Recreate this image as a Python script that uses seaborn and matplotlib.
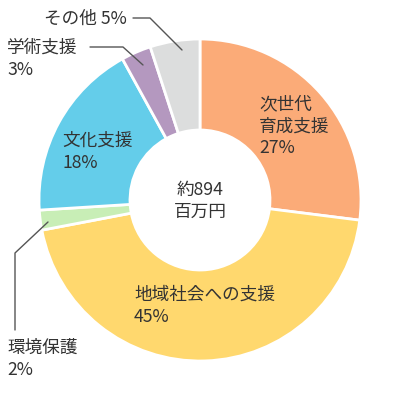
import matplotlib
matplotlib.use("Agg")
import matplotlib.pyplot as plt
import seaborn as sns

sns.set_theme(style="white")
plt.rcParams['font.family'] = ['Noto Sans CJK JP', 'DejaVu Sans']

categories = ["次世代育成支援", "地域社会への支援", "環境保護", "文化支援", "学術支援", "その他"]
values = [27, 45, 2, 18, 3, 5]
labels = ["次世代\n育成支援\n27%", "地域社会への支援\n45%", "環境保護\n2%",
          "文化支援\n18%", "学術支援\n3%", "その他 5%"]
colors = ["#FBAB78", "#FFD86E", "#C8EEB6", "#64CDEA", "#B498BF", "#DCDDDD"]
center_label = "約894\n百万円"

fig = plt.figure(figsize=(4, 4), dpi=100)
ax = fig.add_axes([0, 0, 1, 1])

ax.pie(values, colors=colors, startangle=90, counterclock=False,
       center=(200, 200), radius=161,
       wedgeprops=dict(width=91, edgecolor='white', linewidth=2))
ax.set_xlim(0, 400)
ax.set_ylim(0, 400)
ax.set_aspect('equal')
ax.axis('off')

def Y(y):
    return 400 - y

txt = "#333333"
fs = 12.7
ls = 1.3
# inside labels
ax.text(259, Y(95), labels[0], fontsize=fs, color=txt, ha='left', va='top', linespacing=ls)
ax.text(134, Y(286), labels[1], fontsize=fs, color=txt, ha='left', va='top', linespacing=ls)
ax.text(62, Y(132), labels[3], fontsize=fs, color=txt, ha='left', va='top', linespacing=ls)
# outside labels
ax.text(7, Y(339), labels[2], fontsize=fs, color=txt, ha='left', va='top', linespacing=ls)
ax.text(7, Y(39), labels[4], fontsize=fs, color=txt, ha='left', va='top', linespacing=ls)
ax.text(44, Y(10), labels[5], fontsize=fs, color=txt, ha='left', va='top', linespacing=ls)
# center
ax.text(200, Y(201), center_label, fontsize=fs, color=txt, ha='center', va='center', linespacing=ls)

lc = "#555555"
ax.plot([15, 15, 48], [Y(330), Y(253), Y(222)], color=lc, lw=1)
ax.plot([90, 123, 143], [Y(47), Y(47), Y(65)], color=lc, lw=1)
ax.plot([133, 150, 182], [Y(18), Y(18), Y(50)], color=lc, lw=1)

fig.savefig("out.png", dpi=100)
